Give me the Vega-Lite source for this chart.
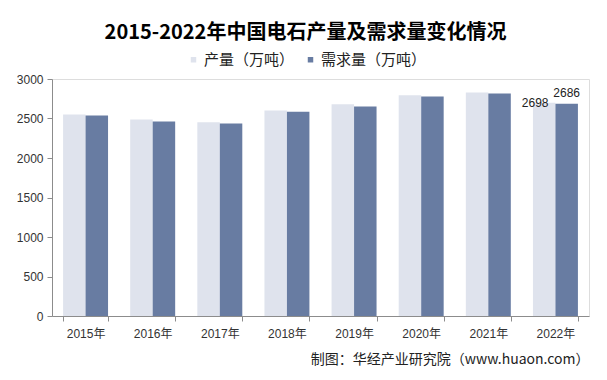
{
  "$schema": "https://vega.github.io/schema/vega-lite/v6.json",
  "width": 537,
  "height": 237,
  "autosize": {"type": "none"},
  "padding": {"left": 52, "top": 79, "right": 18, "bottom": 64},
  "background": "white",
  "title": {
    "text": "2015-2022年中国电石产量及需求量变化情况",
    "font": "Noto Sans CJK SC",
    "fontSize": 20,
    "fontWeight": "bold",
    "color": "#000000",
    "anchor": "middle",
    "dx": -15,
    "offset": 9
  },
  "data": {
    "values": [
      {"year": "2015年", "series": "产量（万吨）", "value": 2550},
      {"year": "2015年", "series": "需求量（万吨）", "value": 2537},
      {"year": "2016年", "series": "产量（万吨）", "value": 2486},
      {"year": "2016年", "series": "需求量（万吨）", "value": 2461},
      {"year": "2017年", "series": "产量（万吨）", "value": 2451},
      {"year": "2017年", "series": "需求量（万吨）", "value": 2438},
      {"year": "2018年", "series": "产量（万吨）", "value": 2600},
      {"year": "2018年", "series": "需求量（万吨）", "value": 2586},
      {"year": "2019年", "series": "产量（万吨）", "value": 2680},
      {"year": "2019年", "series": "需求量（万吨）", "value": 2651},
      {"year": "2020年", "series": "产量（万吨）", "value": 2794},
      {"year": "2020年", "series": "需求量（万吨）", "value": 2778},
      {"year": "2021年", "series": "产量（万吨）", "value": 2829},
      {"year": "2021年", "series": "需求量（万吨）", "value": 2816},
      {"year": "2022年", "series": "产量（万吨）", "value": 2698},
      {"year": "2022年", "series": "需求量（万吨）", "value": 2686}
    ]
  },
  "encoding": {
    "x": {
      "field": "year",
      "type": "nominal",
      "scale": {"paddingInner": 0.33, "paddingOuter": 0.165},
      "axis": {
        "labelAngle": 0,
        "labelFont": "Liberation Sans, Noto Sans CJK SC",
        "labelFontSize": 12,
        "labelColor": "#333333",
        "labelPadding": 7,
        "domainColor": "#8c8c8c",
        "tickColor": "#8c8c8c",
        "tickSize": 5,
        "tickBand": "extent",
        "title": "制图：华经产业研究院（www.huaon.com）",
        "titleAnchor": "end",
        "titleFont": "Noto Sans CJK SC",
        "titleFontSize": 14,
        "titleFontWeight": "normal",
        "titleColor": "#222222",
        "titlePadding": 13
      }
    },
    "y": {
      "field": "value",
      "type": "quantitative",
      "scale": {"domain": [0, 3000]},
      "axis": {
        "values": [0, 500, 1000, 1500, 2000, 2500, 3000],
        "format": "d",
        "grid": false,
        "title": null,
        "labelFont": "Liberation Sans",
        "labelFontSize": 12,
        "labelColor": "#333333",
        "labelPadding": 4,
        "domainColor": "#8c8c8c",
        "tickColor": "#8c8c8c",
        "tickSize": 5
      }
    },
    "xOffset": {
      "field": "series",
      "type": "nominal",
      "sort": ["产量（万吨）", "需求量（万吨）"],
      "scale": {"paddingInner": 0, "paddingOuter": 0}
    }
  },
  "layer": [
    {
      "mark": {"type": "bar"},
      "encoding": {
        "color": {
          "field": "series",
          "type": "nominal",
          "sort": ["产量（万吨）", "需求量（万吨）"],
          "scale": {"domain": ["产量（万吨）", "需求量（万吨）"], "range": ["#DFE3ED", "#687CA2"]},
          "legend": {
            "title": null,
            "orient": "none",
            "direction": "horizontal",
            "legendX": 134,
            "legendY": -27,
            "symbolType": "square",
            "symbolSize": 30,
            "symbolStrokeWidth": 0,
            "labelFont": "Noto Sans CJK SC",
            "labelFontSize": 15,
            "labelColor": "#222222",
            "labelOffset": 3,
            "columnPadding": 8
          }
        }
      }
    },
    {
      "transform": [{"filter": "datum.year == '2022年' && datum.series == '产量（万吨）'"}],
      "mark": {"type": "text", "font": "Liberation Sans", "fontSize": 12, "color": "#222222", "baseline": "middle", "dx": -9},
      "encoding": {"text": {"field": "value", "type": "quantitative"}}
    },
    {
      "transform": [{"filter": "datum.year == '2022年' && datum.series == '需求量（万吨）'"}],
      "mark": {"type": "text", "font": "Liberation Sans", "fontSize": 12, "color": "#222222", "baseline": "alphabetic", "dy": -7},
      "encoding": {"text": {"field": "value", "type": "quantitative"}}
    }
  ]
}
